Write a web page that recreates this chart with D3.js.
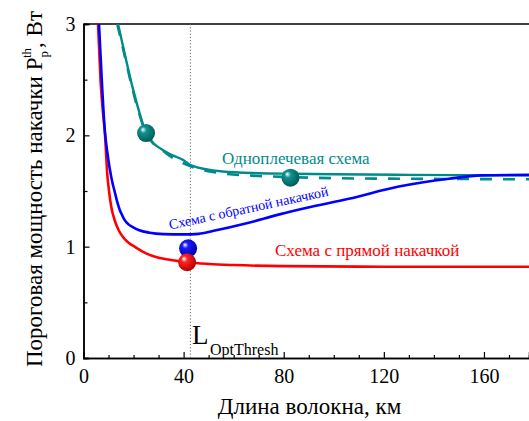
<!DOCTYPE html>
<html>
<head>
<meta charset="utf-8">
<script src="https://cdn.jsdelivr.net/npm/d3@7"></script>
<style>
  html, body { margin: 0; padding: 0; background: #fff; }
  svg { display: block; }
</style>
</head>
<body>
<svg id="chart" width="529" height="421"></svg>
<script>
// Fibre length, km, and threshold pump power, W, for each scheme
const forwardKm   = [5.8, 6.8, 7.6, 8.6, 9.5, 10.2, 11.0, 12.4, 14.0, 16.0, 18.0, 20.4, 25.0, 30.0, 35.0, 41.4, 50, 60, 80, 120, 178];
const forwardPw   = [3.0, 2.5, 2.25, 2.0, 1.65, 1.5, 1.37, 1.24, 1.15, 1.08, 1.035, 1.0, 0.94, 0.9, 0.88, 0.86, 0.845, 0.835, 0.825, 0.82, 0.82];

const backwardKm  = [6.2, 7.3, 8.5, 9.5, 10.5, 11.5, 12.4, 13.5, 14.5, 15.5, 16.4, 18.0, 19.7, 22.0, 26.4, 32, 40, 46, 51.6, 65.2, 78.3, 91.5, 106, 126, 146, 159, 178];
const backwardPw  = [3.0, 2.5, 2.05, 1.85, 1.7, 1.58, 1.5, 1.4, 1.33, 1.28, 1.24, 1.2, 1.175, 1.15, 1.125, 1.113, 1.11, 1.115, 1.14, 1.21, 1.29, 1.36, 1.43, 1.54, 1.61, 1.64, 1.645];

const singleKm    = [13.8, 16.4, 19.5, 22.4, 25.0, 33, 39.7, 43, 55.6, 70, 82.7, 100, 130, 178];
const singlePw    = [3.0, 2.74, 2.44, 2.2, 2.02, 1.85, 1.78, 1.73, 1.675, 1.66, 1.655, 1.65, 1.645, 1.64];

const singleAltKm = [13.5, 16.2, 19.3, 22.2, 25.0, 33, 43, 55, 70, 82.7, 100, 130, 178];
const singleAltPw = [3.0, 2.74, 2.44, 2.2, 2.02, 1.84, 1.72, 1.66, 1.635, 1.625, 1.615, 1.61, 1.605];

// Highlighted operating points
const markerKm    = [25.0, 82.7, 41.8, 41.4];
const markerPw    = [2.02, 1.62, 0.985, 0.86];
const markerColor = ["teal", "teal", "blue", "red"];

// Optimal threshold length
const optLengthKm = 42.7;

// Tick values
const xMajorTicks = [0, 40, 80, 120, 160];
const xMinorTicks = d3.range(10, 180, 10).filter(v => v % 40 !== 0);
const yMajorTicks = [0, 1, 2, 3];
const yMinorTicks = [0.5, 1.5, 2.5];

const COLORS = { red: "#ff0000", blue: "#0000ff", teal: "#008b8b" };
const SERIF = "'Liberation Serif', 'Times New Roman', Tinos, serif";

const svg = d3.select("#chart");
const plotLeft = 83.5, plotRight = 529, plotTop = 24, plotBottom = 358;

const x = d3.scaleLinear().domain([0, 178]).range([plotLeft, plotRight]);
const y = d3.scaleLinear().domain([0, 3]).range([plotBottom, plotTop]);

// Sphere gradients
const defs = svg.append("defs");
function sphereGradient(id, base, dark) {
  const g = defs.append("radialGradient")
    .attr("id", id).attr("cx", "42%").attr("cy", "40%").attr("r", "62%")
    .attr("fx", "32%").attr("fy", "30%");
  g.append("stop").attr("offset", "0%").attr("stop-color", "#ffffff");
  g.append("stop").attr("offset", "28%").attr("stop-color", base);
  g.append("stop").attr("offset", "100%").attr("stop-color", dark);
}
sphereGradient("ball-teal", "#109390", "#005a57");
sphereGradient("ball-blue", "#1a1aff", "#0000a0");
sphereGradient("ball-red", "#ff2424", "#b00000");

defs.append("clipPath").attr("id", "plot-clip")
  .append("rect").attr("x", plotLeft).attr("y", plotTop - 1)
  .attr("width", plotRight - plotLeft).attr("height", plotBottom - plotTop + 1);

// Axes
const xAxisMajor = d3.axisBottom(x).tickValues(xMajorTicks).tickSize(-6).tickPadding(11)
  .tickFormat(d3.format("d"));
const xAxisMinor = d3.axisBottom(x).tickValues(xMinorTicks).tickSize(-3).tickFormat("");
const yAxisMajor = d3.axisLeft(y).tickValues(yMajorTicks).tickSize(-6).tickPadding(8)
  .tickFormat(d3.format("d"));
const yAxisMinor = d3.axisLeft(y).tickValues(yMinorTicks).tickSize(-4).tickFormat("");

function styleAxis(g) {
  g.select(".domain").attr("stroke", "#000").attr("stroke-width", 1.5);
  g.selectAll(".tick line").attr("stroke", "#000").attr("stroke-width", 1.2);
  g.selectAll(".tick text").attr("fill", "#000")
    .style("font-family", SERIF).style("font-size", "20px");
}

svg.append("g").attr("transform", `translate(0,${plotBottom})`).call(xAxisMinor).call(styleAxis);
svg.append("g").attr("transform", `translate(0,${plotBottom})`).call(xAxisMajor).call(styleAxis);
svg.append("g").attr("transform", `translate(${plotLeft},0)`).call(yAxisMinor).call(styleAxis);
svg.append("g").attr("transform", `translate(${plotLeft},0)`).call(yAxisMajor).call(styleAxis);

// Top frame line
svg.append("line").attr("x1", plotLeft).attr("x2", plotRight).attr("y1", plotTop).attr("y2", plotTop)
  .attr("stroke", "#000").attr("stroke-width", 1.5);

// Optimal length marker line
svg.append("line")
  .attr("x1", x(optLengthKm)).attr("x2", x(optLengthKm))
  .attr("y1", y(3)).attr("y2", y(0))
  .attr("stroke", "#666").attr("stroke-width", 1).attr("stroke-dasharray", "1.2,2");

// Curves
const plot = svg.append("g").attr("clip-path", "url(#plot-clip)");
const line = d3.line().x(d => x(d[0])).y(d => y(d[1])).curve(d3.curveMonotoneX);
const zip = (a, b) => a.map((v, i) => [v, b[i]]);

plot.append("path").datum(zip(singleAltKm, singleAltPw))
  .attr("d", line).attr("fill", "none").attr("stroke", COLORS.teal)
  .attr("stroke-width", 2.6).attr("stroke-dasharray", "12,11");
plot.append("path").datum(zip(singleKm, singlePw))
  .attr("d", line).attr("fill", "none").attr("stroke", COLORS.teal).attr("stroke-width", 2.4);
plot.append("path").datum(zip(forwardKm, forwardPw))
  .attr("d", line).attr("fill", "none").attr("stroke", COLORS.red).attr("stroke-width", 2.6);
plot.append("path").datum(zip(backwardKm, backwardPw))
  .attr("d", line).attr("fill", "none").attr("stroke", COLORS.blue).attr("stroke-width", 2.6);

// Operating-point spheres
svg.append("g").selectAll("circle")
  .data(markerKm.map((k, i) => ({ k, p: markerPw[i], c: markerColor[i] })))
  .join("circle")
  .attr("cx", d => x(d.k)).attr("cy", d => y(d.p)).attr("r", 9)
  .attr("fill", d => `url(#ball-${d.c})`);

// Text helper with the serif face set on the element itself
function addText(parent, size, fill) {
  return parent.append("text").style("font-family", SERIF).style("font-size", size + "px").attr("fill", fill);
}

// Curve labels
addText(svg, 17, COLORS.teal).attr("x", 222).attr("y", 163.5).text("Одноплечевая схема");
addText(svg, 17, COLORS.red).attr("x", 275).attr("y", 255.5).text("Схема с прямой накачкой");
addText(svg, 14, COLORS.blue).attr("transform", "translate(170,229.5) rotate(-12)")
  .text("Схема с обратной накачкой");

// L_OptThresh
const lbl = addText(svg, 27, "#000").attr("x", 192).attr("y", 343.5);
lbl.append("tspan").text("L");
lbl.append("tspan").attr("x", 210).attr("y", 354.5).style("font-size", "16px").text("OptThresh");

// Axis titles
addText(svg, 23, "#000").attr("x", 309.5).attr("y", 414).attr("text-anchor", "middle")
  .text("Длина волокна, км");

const yt = addText(svg, 23, "#000").attr("transform", "translate(41.5,367) rotate(-90)");
yt.append("tspan").text("Пороговая мощность накачки P");
yt.append("tspan").attr("dy", 6).style("font-size", "13px").text("p");
yt.append("tspan").attr("dx", -7).attr("dy", -17).style("font-size", "13px").text("th");
yt.append("tspan").attr("dy", 11).text(", Вт");
</script>
</body>
</html>
